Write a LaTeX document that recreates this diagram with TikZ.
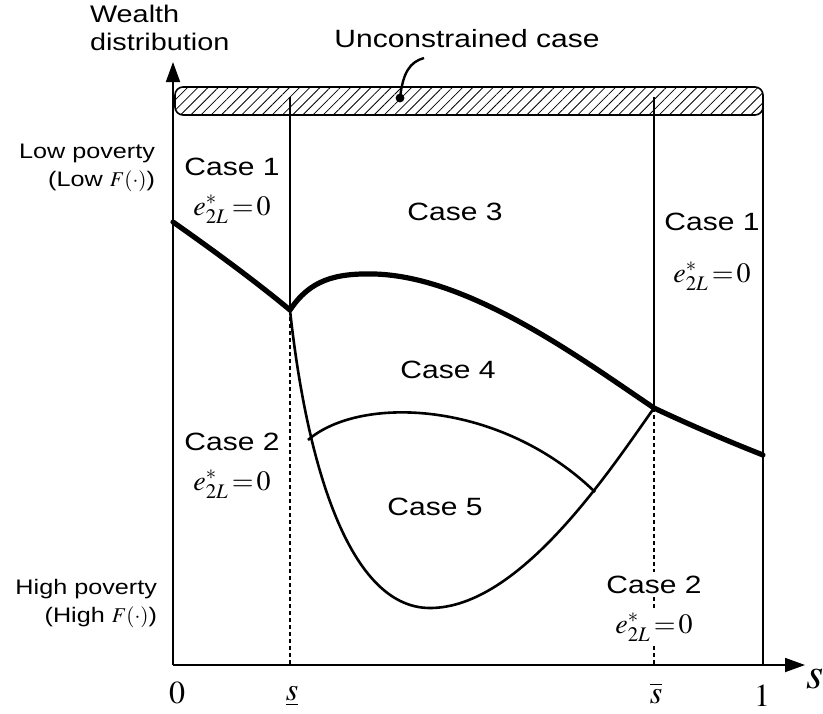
\documentclass[tikz,border=0pt]{standalone}
\usepackage{mathptmx}
\usepackage[no-math]{fontspec}
\setmainfont{Liberation Sans}[FakeStretch=1.2]
\usetikzlibrary{arrows.meta,patterns.meta,positioning}

\begin{document}
\begin{tikzpicture}[x=0.5pt,y=-0.5pt,
  case/.style={font=\fontsize{12.5}{15}\selectfont,anchor=base},
  zero/.style={font=\fontsize{14}{16}\selectfont,anchor=base,inner sep=1pt},
  note/.style={font=\fontsize{10.5}{14}\selectfont,align=right,anchor=base east},
  tick/.style={font=\fontsize{16}{18}\selectfont,anchor=base},
  axis/.style={line width=0.9pt,-{Triangle[length=10pt,width=7pt]}},
  border/.style={line width=0.8pt},
  bound/.style={line width=1.4pt},
  front/.style={line width=2.6pt,line join=round,line cap=round},
  branch/.style={line width=1.3pt},
  guide/.style={line width=0.6pt,dash pattern=on 2pt off 1.5pt}]
\useasboundingbox (0,0) rectangle (823,713);
\coordinate (O) at (173,665);
\coordinate (ytop) at (173,62);
\coordinate (xend) at (805,665);
\coordinate (L0) at (173,222);
\coordinate (sl) at (290,310);
\coordinate (sh) at (654,408);
\coordinate (R1) at (763,455);
\coordinate (bot) at (430,608);
\coordinate (a1) at (308,440);
\coordinate (a2) at (595,492);
% unconstrained strip
\draw[border,rounded corners=4pt,pattern={Lines[angle=45,distance=3.6pt,line width=0.4pt]}] (175,87) rectangle (763,115);
\draw[border] (763,97) -- (763,665);
\draw[axis] (O) -- (ytop);
\draw[axis] (O) -- (xend);
% thresholds
\draw[bound] (290,97) -- (sl);
\draw[bound] (654,97) -- (sh);
\draw[guide] (sl) -- (sl |- O);
\draw[guide] (sh) -- (sh |- O);
% boundaries between cases
\draw[front] (L0) .. controls (220,255) and (260,285) .. (sl)
  .. controls (310,280) and (335,273) .. (375,274)
  .. controls (470,277) and (580,358) .. (sh)
  .. controls (690,425) and (730,442) .. (R1);
\draw[branch] (sl) .. controls (305,450) and (345,608) .. (bot)
  .. controls (520,608) and (610,470) .. (sh);
\draw[branch] (a1) .. controls (360,395) and (500,400) .. (a2);

% labels
\node[font=\fontsize{12}{14}\selectfont,align=left,anchor=base west] (wd) at (83,50) {Wealth\\distribution};
\node[case] (unc) at (467,47) {Unconstrained case};
\coordinate (tail) at (424,58);
\fill (400,98) coordinate (dot) circle (2.2pt);
\draw[line width=1.2pt] (dot) .. controls (403,72) and (410,62) .. (tail);
\node[note] (lowp) at (162,186) {Low poverty\\(Low $F(\cdot)$)};
\node[note] (highp) at (164,622) {High poverty\\(High $F(\cdot)$)};

\node[case] (c1l) at (232,175) {Case 1};
\node[zero,below=20pt of c1l.base,anchor=base] (e1l) {$e^*_{2L}\!=\!0$};
\node[case] (c3) at (455,220) {Case 3};
\node[case] (c1r) at (712,230) {Case 1};
\node[zero,below=26pt of c1r.base,anchor=base] (e1r) {$e^*_{2L}\!=\!0$};
\node[case] (c4) at (448,378) {Case 4};
\node[case] (c2l) at (232,450) {Case 2};
\node[zero,below=20pt of c2l.base,anchor=base] (e2l) {$e^*_{2L}\!=\!0$};
\node[case] (c5) at (435,515) {Case 5};
\node[case,fill=white,inner sep=2pt] (c2r) at (654,593) {Case 2};
\node[zero,fill=white,below=20pt of c2r.base,anchor=base] (e2r) {$e^*_{2L}\!=\!0$};

\node[tick] (t0) at (177,703) {$0$};
\node[tick] (tl) at (292,700) {$\underline{s}$};
\node[tick] (th) at (656,703) {$\overline{s}$};
\node[tick] (t1) at (762,706) {$1$};
\node[font=\fontsize{22}{24}\selectfont,anchor=base] (sax) at (815,688) {$s$};
\end{tikzpicture}
\end{document}
